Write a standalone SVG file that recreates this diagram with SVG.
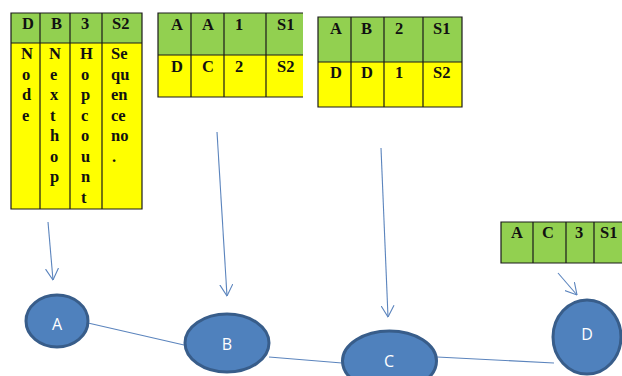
<svg xmlns="http://www.w3.org/2000/svg" width="622" height="376" viewBox="0 0 622 376">
<style>
.hd{fill:#92d050}
.bd{fill:#ffff00}
.gl{stroke:#1a1a1a;stroke-width:1.2;fill:none}
.t{font-family:"Liberation Serif","Times New Roman",serif;font-weight:bold;font-size:16.5px;fill:#111}
.nd{fill:#4f81bd;stroke:#385d8a;stroke-width:3}
.nt{font-family:"Open Sans","Liberation Sans",sans-serif;font-size:16px;fill:#fff;text-anchor:middle}
.cn{stroke:#5b84bd;stroke-width:1.1;fill:none}
</style>
<defs>
<marker id="ah" viewBox="0 0 12 14" refX="11.5" refY="7" markerWidth="12" markerHeight="14" markerUnits="userSpaceOnUse" orient="auto">
<path d="M0,0.5 L11.5,7 L0,13.5" fill="none" stroke="#5b84bd" stroke-width="1.1"/>
</marker>
</defs>
<rect width="622" height="376" fill="#fff"/>

<g id="table-legend">
<rect class="hd" x="11" y="13" width="131" height="30"/>
<rect class="bd" x="11" y="43" width="131" height="166"/>
<path class="gl" d="M11,13H142V209H11Z M11,43H142 M40,13V209 M70,13V209 M102,13V209"/>
<text class="t" x="22" y="29">D</text>
<text class="t" x="51" y="29">B</text>
<text class="t" x="81" y="29">3</text>
<text class="t" x="112" y="29">S2</text>
<text class="t" x="21" y="59">N<tspan x="22" dy="20.5">o</tspan><tspan x="22" dy="20.5">d</tspan><tspan x="22" dy="20.5">e</tspan></text>
<text class="t" x="49" y="59">N<tspan x="50" dy="20.5">e</tspan><tspan x="50" dy="20.5">x</tspan><tspan x="50" dy="20.5">t</tspan><tspan x="50" dy="20.5">h</tspan><tspan x="50" dy="20.5">o</tspan><tspan x="50" dy="20.5">p</tspan></text>
<text class="t" x="80" y="59">H<tspan x="81" dy="20.5">o</tspan><tspan x="81" dy="20.5">p</tspan><tspan x="81" dy="20.5">c</tspan><tspan x="81" dy="20.5">o</tspan><tspan x="81" dy="20.5">u</tspan><tspan x="81" dy="20.5">n</tspan><tspan x="81" dy="20.5">t</tspan></text>
<text class="t" x="111" y="59">Se<tspan x="111" dy="20.5">qu</tspan><tspan x="111" dy="20.5">en</tspan><tspan x="111" dy="20.5">ce</tspan><tspan x="111" dy="20.5">no</tspan><tspan x="112" dy="20.5">.</tspan></text>
</g>

<g id="table-B">
<rect class="hd" x="158" y="13" width="145" height="42"/>
<rect class="bd" x="158" y="55" width="145" height="42"/>
<path class="gl" d="M303,13H158V97H303 M158,55H303 M191,13V97 M224,13V97 M266,13V97"/>
<text class="t" x="171" y="30">A</text>
<text class="t" x="202" y="30">A</text>
<text class="t" x="235" y="30">1</text>
<text class="t" x="277" y="30">S1</text>
<text class="t" x="171" y="72">D</text>
<text class="t" x="202" y="72">C</text>
<text class="t" x="235" y="72">2</text>
<text class="t" x="277" y="72">S2</text>
</g>

<g id="table-C">
<rect class="hd" x="318" y="17" width="144" height="45"/>
<rect class="bd" x="318" y="62" width="144" height="45"/>
<path class="gl" d="M318,17H462V107H318Z M318,62H462 M351,17V107 M384,17V107 M423,17V107"/>
<text class="t" x="330" y="34">A</text>
<text class="t" x="361" y="34">B</text>
<text class="t" x="395" y="34">2</text>
<text class="t" x="433" y="34">S1</text>
<text class="t" x="330" y="78">D</text>
<text class="t" x="361" y="78">D</text>
<text class="t" x="395" y="78">1</text>
<text class="t" x="433" y="78">S2</text>
</g>

<g id="table-D">
<rect class="hd" x="501" y="222" width="125" height="41"/>
<path class="gl" d="M626,222H501V263H626 M533,222V263 M566,222V263 M594,222V263"/>
<text class="t" x="511" y="238">A</text>
<text class="t" x="542" y="238">C</text>
<text class="t" x="575" y="238">3</text>
<text class="t" x="600" y="238">S1</text>
</g>

<g id="connectors">
<path class="cn" d="M88,323L184,345"/>
<path class="cn" d="M269,357L342,363"/>
<path class="cn" d="M437,357L554,363"/>
<path class="cn" d="M48,222L53,280" marker-end="url(#ah)"/>
<path class="cn" d="M217,132L227,296" marker-end="url(#ah)"/>
<path class="cn" d="M381,148L388,317" marker-end="url(#ah)"/>
<path class="cn" d="M558,273L577,295" marker-end="url(#ah)"/>
</g>

<g id="node-A">
<ellipse class="nd" cx="57" cy="321" rx="31" ry="26"/>
<text class="nt" x="57" y="330">A</text>
</g>
<g id="node-B">
<ellipse class="nd" cx="227" cy="343" rx="42" ry="29"/>
<text class="nt" x="227" y="350">B</text>
</g>
<g id="node-C">
<ellipse class="nd" cx="389.5" cy="361" rx="47" ry="30"/>
<text class="nt" x="389" y="367">C</text>
</g>
<g id="node-D">
<ellipse class="nd" cx="587" cy="337" rx="34" ry="37"/>
<text class="nt" x="587" y="340">D</text>
</g>
</svg>
